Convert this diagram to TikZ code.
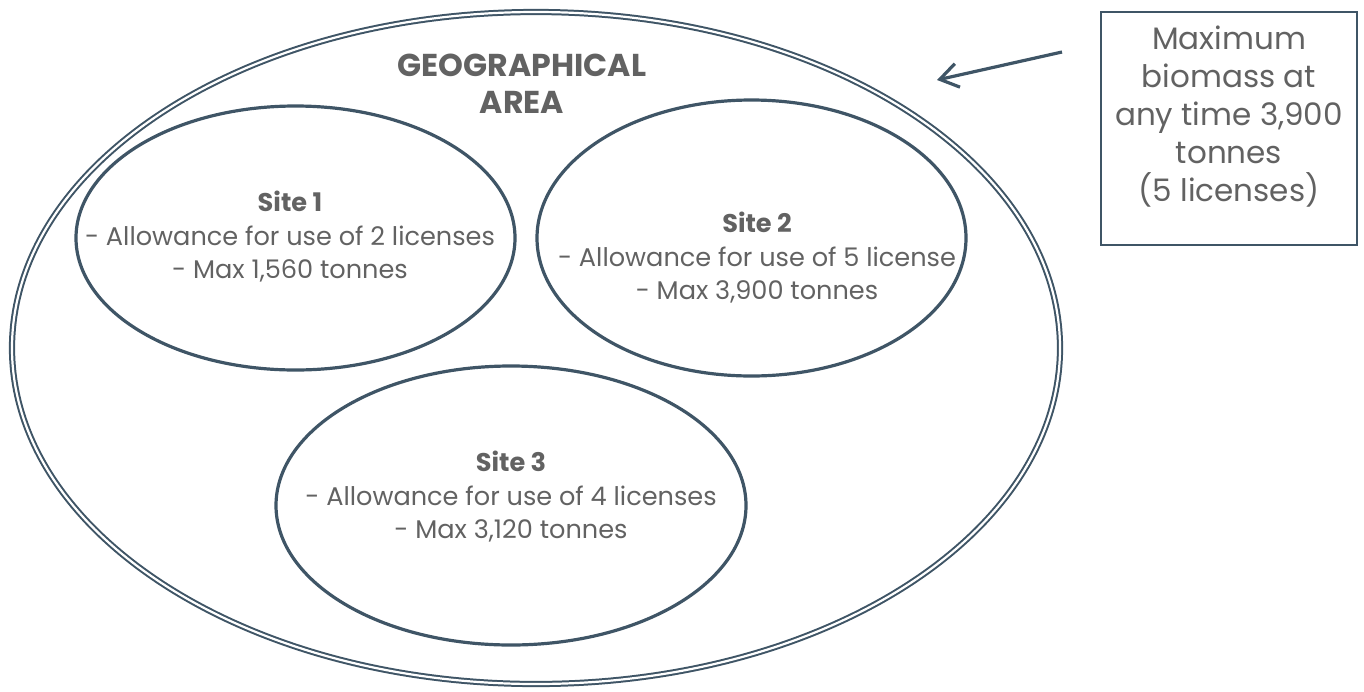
\documentclass[tikz,border=0pt]{standalone}
\usepackage{fontspec}
\setmainfont{Poppins}
\usepackage{xcolor}
\usepackage{tikz}
\usetikzlibrary{positioning,arrows.meta,shapes.geometric}
\definecolor{slate}{HTML}{3F5566}
\definecolor{txtgray}{HTML}{626262}

\begin{document}
\begin{tikzpicture}[
  x=0.5pt, y=-0.5pt,
  font=\fontsize{12.8}{16.75}\selectfont,
  text=txtgray,
  site/.style={draw=slate, ellipse, line width=1.6pt, inner sep=0pt},
  sitetext/.style={align=center, inner sep=0pt},
  area/.style={draw=slate, ellipse, double=white, double distance=1.1pt, line width=1pt, inner sep=0pt, minimum width=524pt, minimum height=336pt},
  infobox/.style={draw=slate, line width=0.8pt, minimum width=128pt, minimum height=116.5pt},
  boxtext/.style={align=center, font=\fontsize{15.5}{19}\selectfont},
  arrow/.style={-{Straight Barb[length=9pt, width=12pt, line width=1.6pt]}, draw=slate, line width=1.6pt}
]
\useasboundingbox (0,0) rectangle (1364,691);
% outer area
\node[area] (geo) at (536,348) {};
\node[font=\bfseries\fontsize{15.8}{18.5}\selectfont, align=center] (geotitle) at (522,84) {GEOGRAPHICAL\\AREA};
% sites
\node[site, minimum width=219.5pt, minimum height=132pt] (site1) at (295.5,238) {};
\node[site, minimum width=214.5pt, minimum height=138pt] (site2) at (751.5,238) {};
\node[site, minimum width=235pt, minimum height=139.5pt] (site3) at (511,505.5) {};
\node[sitetext] (site1text) at (290,237) {\textbf{Site 1}\\- Allowance for use of 2 licenses\\- Max 1,560 tonnes};
\node[sitetext] (site2text) at (757,258) {\textbf{Site 2}\\- Allowance for use of 5 license\\- Max 3,900 tonnes};
\node[sitetext] (site3text) at (511,497) {\textbf{Site 3}\\- Allowance for use of 4 licenses\\- Max 3,120 tonnes};
% limit box
\node[infobox] (limit) at (1229,128.5) {};
\node[boxtext] (limittext) at (1229,117) {Maximum\\biomass at\\any time 3,900\\tonnes\\(5 licenses)};
\coordinate (arrowstart) at (1062,52);
\coordinate (arrowend) at (937,80);
\draw[arrow] (arrowstart) -- (arrowend);
\end{tikzpicture}
\end{document}
